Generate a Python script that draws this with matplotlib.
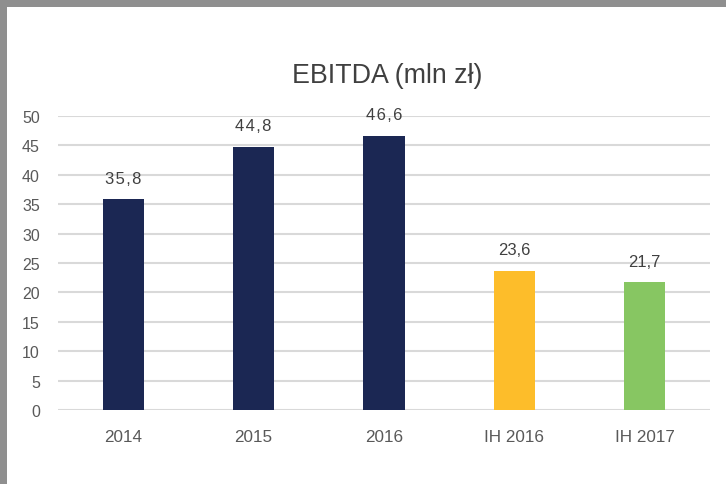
import matplotlib
matplotlib.use("Agg")
import matplotlib.pyplot as plt
from matplotlib.patches import Rectangle

categories = ["2014", "2015", "2016", "IH 2016", "IH 2017"]
values = [35.8, 44.8, 46.6, 23.6, 21.7]
labels = ["35,8", "44,8", "46,6", "23,6", "21,7"]
colors = ["#1b2753", "#1b2753", "#1b2753", "#fdbd2a", "#87c662"]
yticks = [0, 5, 10, 15, 20, 25, 30, 35, 40, 45, 50]
spaced = [True, True, True, False, False]

plt.rcParams['font.family'] = ['Liberation Sans', 'DejaVu Sans']

W, H = 726, 485
fig = plt.figure(figsize=(W / 100, H / 100), dpi=100)
fig.patch.set_facecolor("white")

# gray frame at top and left
fig.patches.append(Rectangle((0, 1 - 8 / H), 1, 8 / H, transform=fig.transFigure,
                             facecolor="#8f8f8f", edgecolor="none", zorder=0))
fig.patches.append(Rectangle((0, 0), 7 / W, 1, transform=fig.transFigure,
                             facecolor="#8f8f8f", edgecolor="none", zorder=0))

ax = fig.add_axes([58 / W, (H - 411) / H, (710 - 58) / W, (411 - 117) / H])
x = list(range(len(categories)))
ax.bar(x, values, width=0.315, color=colors, zorder=3)
ax.set_xlim(-0.5, len(categories) - 0.5)
ax.set_ylim(0, 50)
ax.set_yticks(yticks)
ax.set_yticklabels([str(v) for v in yticks], fontsize=11.5, color="#595959")
ax.set_xticks(x)
ax.set_xticklabels(categories, fontsize=12.3, color="#595959")
ax.tick_params(axis="y", length=0, pad=13)
ax.tick_params(axis="x", length=0, pad=14)
ax.yaxis.grid(True, color="#d9d9d9", linewidth=1.5, zorder=0)
ax.set_axisbelow(True)
for s in ax.spines.values():
    s.set_visible(False)

for xi, v, lab, sp in zip(x, values, labels, spaced):
    txt = "\u200a".join(lab) if sp else lab
    ax.annotate(txt, (xi, v), xytext=(0, 10), textcoords="offset points",
                ha="center", va="bottom", fontsize=12, color="#404040")

fig.text(387 / W, 1 - 76 / H, "EBITDA (mln zł)", ha="center", va="center",
         fontsize=19.3, color="#404040")

fig.savefig("out.png", dpi=100)
